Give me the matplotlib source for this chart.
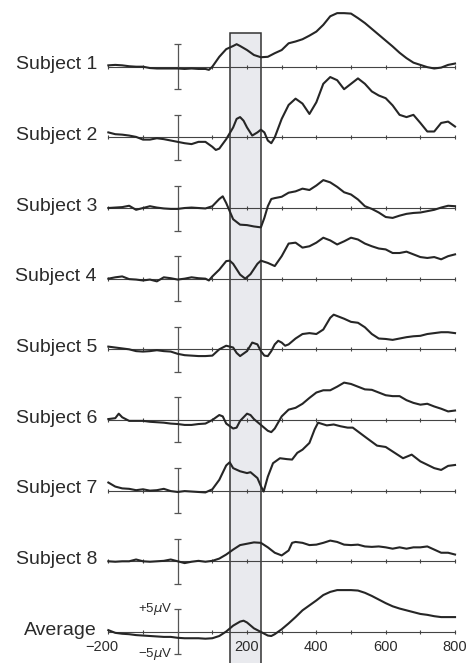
import matplotlib
matplotlib.use("Agg")
from matplotlib import pyplot as plt
from matplotlib.patches import Rectangle

# Données (temps en ms, amplitude en µV)
labels = ["Subject 1", "Subject 2", "Subject 3", "Subject 4", "Subject 5",
          "Subject 6", "Subject 7", "Subject 8", "Average"]

t1 = [-200, -180, -160, -140, -120, -100, -80, -60, -40, -20, 0, 20, 40, 60, 80, 90, 100, 120, 140, 160, 170, 180,
      200, 220, 240, 260, 280, 300, 320, 340, 360, 380, 400, 420, 440, 460, 480, 500, 520, 540, 560, 580, 600,
      620, 640, 660, 680, 700, 720, 740, 760, 780, 800]
v1 = [0.3, 0.4, 0.3, 0.1, 0.0, 0.0, -0.3, -0.4, -0.4, -0.4, -0.4, -0.5, -0.4, -0.5, -0.5, -0.7, 0.0, 2.2, 3.9, 4.6, 5.0, 4.6,
      3.7, 2.6, 2.1, 2.2, 3.0, 3.7, 5.2, 5.6, 6.1, 6.9, 7.8, 9.3, 11.2, 11.9, 11.9, 11.8, 10.8, 9.7, 8.4, 7.1, 5.8,
      4.5, 3.1, 1.9, 0.9, 0.4, -0.1, -0.4, -0.2, 0.4, 0.7]

t2 = [-200, -180, -160, -140, -120, -100, -80, -60, -40, -20, 0, 20, 40, 60, 80, 100,
      110, 120, 140, 160, 170, 180, 190, 200, 215, 230, 240, 250, 260, 270, 280,
      300, 320, 340, 360, 380, 400, 420, 440, 460, 480, 500, 520, 540, 560, 580, 600,
      620, 640, 660, 680, 700, 720, 740, 760, 780, 800]
v2 = [1.1, 0.7, 0.6, 0.4, 0.1, -0.5, -0.5, -0.2, -0.4, -0.7, -1.0, -1.3, -1.5, -1.0, -1.0, -2.1,
      -2.8, -2.5, -0.4, 2.2, 4.1, 4.5, 3.7, 2.2, 0.4, 1.1, 1.7, 1.1, -0.7, -1.3, 0.0,
      4.1, 7.2, 8.6, 7.5, 5.2, 7.8, 11.9, 13.4, 12.7, 10.7, 11.9, 13.1, 11.9, 10.2, 9.3, 8.7,
      7.1, 5.0, 4.5, 5.0, 3.2, 1.3, 1.3, 3.2, 3.5, 2.4]

t3 = [-200, -180, -160, -140, -120, -100, -80, -60, -40, -20, 0, 20, 40, 60, 80, 100,
      120, 130, 140, 150, 160, 180, 200, 220, 240, 250, 260, 270, 280,
      300, 320, 340, 360, 380, 400, 420, 440, 460, 480, 500, 520, 540, 560, 580, 600,
      620, 640, 660, 680, 700, 720, 740, 760, 780, 800]
v3 = [0.0, 0.1, 0.2, 0.5, -0.4, 0.0, 0.4, 0.1, -0.1, -0.2, -0.2, 0.0, 0.1, 0.0, -0.1, 0.4,
      2.0, 2.6, 1.1, -0.7, -2.5, -3.7, -3.8, -4.1, -4.3, -2.2, 0.4, 2.0, 2.2,
      2.5, 3.4, 3.7, 4.3, 4.0, 5.0, 6.2, 5.7, 4.7, 3.5, 3.0, 1.9, 0.4, -0.2, -1.0, -2.0,
      -2.2, -1.7, -1.3, -1.1, -1.0, -0.7, -0.4, 0.1, 0.5, 0.4]

t4 = [-200, -180, -160, -140, -120, -100, -80, -60, -40, -20, 0, 20, 40, 60, 80,
      90, 100, 120, 140, 150, 160, 180, 195, 210, 230, 240, 260, 280,
      300, 320, 340, 360, 380, 400, 420, 440, 460, 480, 500, 520, 540, 560, 580, 600,
      620, 640, 660, 680, 700, 720, 740, 760, 780, 800]
v4 = [0.0, 0.3, 0.5, -0.1, -0.2, -0.4, -0.2, -0.6, 0.3, 0.1, -0.2, 0.0, 0.3, 0.1, 0.0,
      -0.4, 0.5, 2.0, 3.9, 4.0, 3.3, 0.9, 0.0, 1.0, 3.3, 4.0, 3.5, 2.8,
      5.0, 7.8, 8.0, 6.9, 7.2, 8.0, 9.1, 8.5, 7.6, 8.3, 9.1, 8.7, 7.8, 7.2, 6.7, 6.5,
      5.7, 5.7, 6.0, 5.4, 4.8, 4.6, 4.8, 4.3, 5.0, 5.4]

t5 = [-200, -180, -160, -140, -120, -100, -80, -60, -40, -20, 0, 20, 40, 60, 80, 100, 120,
      140, 160, 170, 180, 200, 215, 230, 240, 250, 260, 270, 280, 290, 300, 310, 320,
      340, 360, 380, 400, 420, 440, 450, 460, 480, 500, 520, 540, 560, 580, 600,
      620, 640, 660, 680, 700, 720, 740, 760, 780, 800]
v5 = [0.6, 0.4, 0.2, 0.0, -0.4, -0.5, -0.4, -0.2, -0.4, -0.5, -1.0, -1.3, -1.4, -1.5, -1.5, -1.4, 0.0,
      0.8, 0.4, -0.8, -1.5, -0.4, 1.5, 1.1, -0.4, -1.4, -1.5, -0.4, 1.1, 1.9, 1.5, 0.8, 1.1,
      2.4, 3.4, 3.6, 3.4, 4.4, 7.0, 7.7, 7.4, 6.8, 6.1, 5.9, 4.9, 3.4, 2.4, 2.3,
      2.1, 2.4, 2.7, 2.9, 3.0, 3.4, 3.6, 3.8, 3.8, 3.6]

t6 = [-200, -180, -170, -160, -140, -120, -100, -80, -60, -40, -20, 0, 20, 40, 60, 80, 100, 120,
      130, 140, 160, 170, 180, 200, 210, 220, 240, 260, 270, 280,
      300, 320, 340, 360, 380, 400, 420, 440, 460, 480, 500, 520, 540, 560, 580, 600,
      620, 640, 660, 680, 700, 720, 740, 760, 780, 800]
v6 = [0.2, 0.4, 1.4, 0.6, -0.2, -0.2, -0.2, -0.4, -0.5, -0.6, -0.8, -0.9, -1.1, -1.1, -0.9, -0.8, 0.0, 1.1,
      0.8, -0.8, -1.9, -1.7, -0.2, 1.4, 1.1, 0.2, -1.1, -2.4, -2.7, -1.9,
      0.8, 2.3, 2.7, 3.6, 4.9, 6.1, 6.6, 6.6, 7.4, 8.3, 8.0, 7.4, 6.8, 6.7, 6.1, 5.5,
      5.3, 5.3, 4.4, 3.8, 3.4, 3.6, 3.0, 2.5, 1.9, 2.1]

t7 = [-200, -180, -160, -140, -120, -100, -80, -60, -40, -20, 0, 20, 40, 60, 80, 100,
      120, 140, 150, 160, 180, 200, 210, 230, 240, 248, 260, 275, 295, 315, 330, 345, 360, 380, 395,
      405, 430, 450, 470, 490, 505, 545, 575, 600, 620, 650, 675, 700, 740, 760, 780, 800]
v7 = [1.8, 0.9, 0.5, 0.4, 0.1, 0.3, 0.0, 0.1, 0.4, -0.1, -0.3, -0.1, -0.2, -0.3, -0.4, 0.3,
      2.4, 5.6, 6.3, 5.0, 4.3, 3.9, 4.1, 2.8, 1.0, -0.2, 3.1, 6.1, 7.2, 7.0, 6.9, 8.4, 9.1, 10.6, 13.6,
      15.1, 14.5, 14.7, 14.3, 14.0, 14.0, 11.7, 10.0, 9.7, 8.7, 7.2, 8.0, 6.5, 5.0, 4.6, 5.5, 5.7]

t8 = [-200, -180, -160, -140, -120, -100, -80, -60, -40, -20, 0, 20, 40, 60, 80, 100,
      120, 140, 160, 180, 200, 220, 240, 260, 280, 300, 320, 330, 340, 360, 380, 400,
      420, 440, 460, 480, 500, 520, 540, 560, 580, 600, 620, 640, 660, 680, 700,
      720, 740, 760, 780, 800]
v8 = [0.0, -0.1, 0.0, 0.0, 0.4, 0.0, -0.1, 0.0, 0.1, 0.4, 0.0, -0.4, -0.1, 0.1, -0.1, 0.1,
      0.6, 1.5, 2.6, 3.6, 3.9, 4.2, 4.1, 3.1, 1.9, 1.3, 2.4, 4.1, 4.3, 4.1, 3.6, 3.7,
      4.1, 4.6, 4.3, 3.7, 3.6, 3.7, 3.3, 3.2, 3.3, 3.1, 2.8, 3.1, 2.8, 3.1, 3.1,
      3.3, 2.6, 1.9, 1.9, 1.5]

t_avg = [-200, -180, -160, -140, -120, -100, -80, -60, -40, -20, 0, 20, 40, 60, 80, 100,
         120, 140, 160, 180, 190, 200, 220, 240, 260, 270, 280,
         300, 320, 340, 360, 380, 400, 420, 440, 460, 480, 500, 520, 540, 560, 580, 600,
         620, 640, 660, 680, 700, 720, 740, 760, 780, 800]
v_avg = [0.4, -0.2, -0.4, -0.5, -0.7, -0.8, -0.9, -1.0, -1.1, -1.1, -1.3, -1.4, -1.4, -1.4, -1.5, -1.4,
         -0.9, 0.1, 1.4, 2.3, 2.5, 2.1, 0.8, 0.0, -0.8, -0.9, -0.5,
         0.6, 1.9, 3.3, 4.8, 5.9, 7.0, 8.2, 8.9, 9.3, 9.3, 9.3, 9.2, 8.7, 8.0, 7.2, 6.4,
         5.7, 5.2, 4.8, 4.4, 4.0, 3.8, 3.5, 3.3, 3.3, 3.3]

times = [t1, t2, t3, t4, t5, t6, t7, t8, t_avg]
values = [v1, v2, v3, v4, v5, v6, v7, v8, v_avg]

x_ticks = list(range(-200, 801, 100))
x_labels = {-200: "\u2212200", 200: "200", 400: "400", 600: "600", 800: "800"}
window = (150, 240)  # fenêtre grisée (ms)

# Réglages
ECART = 15.7  # écart vertical entre les lignes (µV)
COULEUR = "#262626"
TEXTE = "#2b2b2b"
plt.rcParams["font.family"] = ["Liberation Sans", "DejaVu Sans"]

fig = plt.figure(figsize=(4.68, 6.63), dpi=100)
ax = fig.add_axes([0, 0, 1, 1])
ax.set_xlim(-512.5, 837.4)
ax.set_ylim(-132.5, 14.82)
ax.axis("off")

# Fenêtre grisée
ax.add_patch(Rectangle((window[0], -140), window[1] - window[0], 147.5,
                       facecolor="#e9eaee", edgecolor="#333333", lw=1.1, zorder=0))

for i, (lab, t, v) in enumerate(zip(labels, times, values)):
    base = -ECART * i

    # ligne de base + graduations
    ax.plot([-200, 800], [base, base], color="#444444", lw=0.8, zorder=1)
    ax.vlines(x_ticks, base - 0.45, base + 0.45, color="#444444", lw=0.8, zorder=1)

    # barre d'échelle ±5 µV
    ax.vlines(0, base - 5, base + 5, color="#555555", lw=0.9, zorder=1)
    ax.hlines([base - 5, base + 5], -10, 10, color="#555555", lw=0.9, zorder=1)

    # signal
    ax.plot(t, [base + y for y in v], color=COULEUR, lw=1.5, zorder=2)

    # nom de la ligne
    ax.text(-233, base - 0.6, lab, ha="right", va="baseline", fontsize=14, color=TEXTE)

# Axe du temps sous la moyenne
base = -ECART * (len(labels) - 1)
for x, txt in x_labels.items():
    decalage = -20 if x == -200 else 0
    ax.text(x + decalage, base - 4.3, txt, ha="center", va="baseline", fontsize=10.5, color=TEXTE)

ax.text(-16, base + 5, "+5$\\mu$V", ha="right", va="center", fontsize=9.5, color=TEXTE)
ax.text(-16, base - 5, "\u22125$\\mu$V", ha="right", va="center", fontsize=9.5, color=TEXTE)

fig.savefig("out.png", dpi=100)
